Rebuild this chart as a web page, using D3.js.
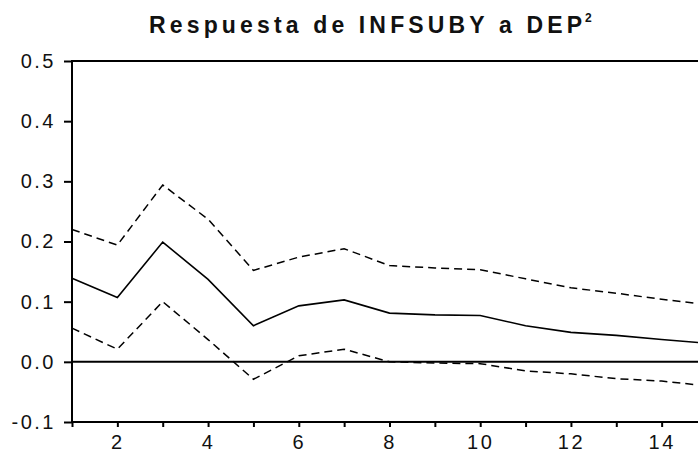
<!DOCTYPE html>
<html>
<head>
<meta charset="utf-8">
<script src="https://cdn.jsdelivr.net/npm/d3@7"></script>
<style>
  body { margin: 0; background: #fff; }
  svg { display: block; font-family: "Liberation Sans", Arial, sans-serif; }
</style>
</head>
<body>
<div id="chart"></div>
<script>
// impulse response, periods 1..15
var periods = [1, 2, 3, 4, 5, 6, 7, 8, 9, 10, 11, 12, 13, 14, 15];
var response = [0.139, 0.107, 0.199, 0.137, 0.060, 0.093, 0.103, 0.081, 0.078, 0.077, 0.060, 0.049, 0.044, 0.037, 0.031];
var upperBand = [0.220, 0.194, 0.294, 0.237, 0.152, 0.174, 0.188, 0.160, 0.156, 0.153, 0.138, 0.123, 0.114, 0.104, 0.095];
var lowerBand = [0.056, 0.021, 0.100, 0.037, -0.029, 0.010, 0.021, 0.000, -0.002, -0.003, -0.015, -0.020, -0.028, -0.032, -0.040];
var yTicks = [-0.1, 0.0, 0.1, 0.2, 0.3, 0.4, 0.5];
var xLabelTicks = [2, 4, 6, 8, 10, 12, 14];

var W = 698, H = 467;
var svg = d3.select("#chart").append("svg").attr("width", W).attr("height", H);

var x = d3.scaleLinear().domain([1, 15]).range([72, 707]);
var y = d3.scaleLinear().domain([-0.1, 0.5]).range([422, 61]);

// title, spread out like the original
svg.append("text")
    .attr("x", 149).attr("y", 33)
    .attr("textLength", 433).attr("lengthAdjust", "spacing")
    .style("font-weight", "bold")
    .style("font-size", "23px")
    .attr("fill", "#111")
    .text("Respuesta de INFSUBY a DEP");
svg.append("text")
    .attr("x", 585).attr("y", 22)
    .style("font-weight", "bold")
    .style("font-size", "12px")
    .attr("fill", "#111")
    .text("2");

// y axis (plain hyphen for negatives, like the original)
var yFmt = function(d) { return d.toFixed(1); };
var yAxis = d3.axisLeft(y).tickValues(yTicks).tickSize(8).tickFormat(yFmt);
var gy = svg.append("g").attr("transform", "translate(72,0)").call(yAxis);
gy.select(".domain").remove();
gy.selectAll(".tick line").attr("stroke", "#000").attr("stroke-width", 2);
gy.selectAll(".tick text")
    .attr("x", -16)
    .style("font-size", "20px")
    .style("letter-spacing", "2.5px")
    .attr("fill", "#111");

// x axis
var xAxis = d3.axisBottom(x).tickValues(periods).tickSize(5)
    .tickFormat(function(d) { return xLabelTicks.indexOf(d) >= 0 ? d : ""; });
var gx = svg.append("g").attr("transform", "translate(0,422)").call(xAxis);
gx.select(".domain").remove();
gx.selectAll(".tick line").attr("stroke", "#000").attr("stroke-width", 2);
gx.selectAll(".tick text")
    .attr("y", 13)
    .style("font-size", "20px")
    .style("letter-spacing", "2.5px")
    .attr("fill", "#111");

// frame
svg.append("rect")
    .attr("x", x(1)).attr("y", y(0.5))
    .attr("width", x(15) - x(1)).attr("height", y(-0.1) - y(0.5))
    .attr("fill", "none").attr("stroke", "#000").attr("stroke-width", 2);

// zero line
svg.append("line")
    .attr("x1", x(1)).attr("x2", x(15))
    .attr("y1", y(0)).attr("y2", y(0))
    .attr("stroke", "#000").attr("stroke-width", 2);

var line = d3.line()
    .x(function(d, i) { return x(periods[i]); })
    .y(function(d) { return y(d); });

svg.append("path").datum(upperBand).attr("d", line)
    .attr("fill", "none").attr("stroke", "#000").attr("stroke-width", 1.5)
    .attr("stroke-dasharray", "8,5");
svg.append("path").datum(lowerBand).attr("d", line)
    .attr("fill", "none").attr("stroke", "#000").attr("stroke-width", 1.5)
    .attr("stroke-dasharray", "8,5");
svg.append("path").datum(response).attr("d", line)
    .attr("fill", "none").attr("stroke", "#000").attr("stroke-width", 1.6);
</script>
</body>
</html>
